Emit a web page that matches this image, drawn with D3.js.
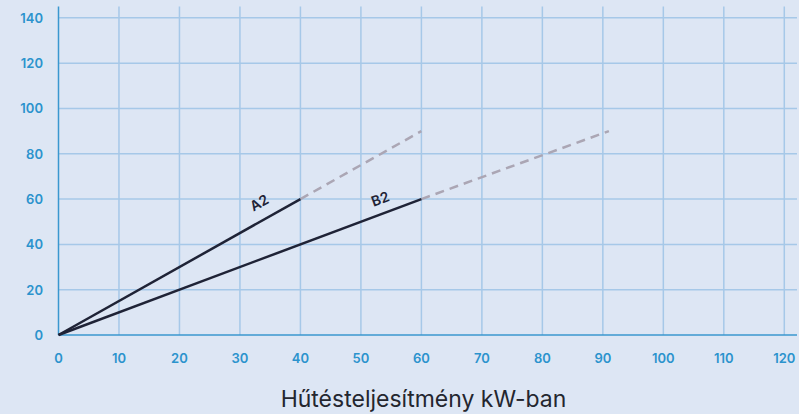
<!DOCTYPE html>
<html>
<head>
<meta charset="utf-8">
<script src="https://cdn.jsdelivr.net/npm/d3@7"></script>
<style>
  body { margin: 0; background: #dde6f4; }
  svg { display: block; }
</style>
</head>
<body>
<script>
// data
const xTicks = [0, 10, 20, 30, 40, 50, 60, 70, 80, 90, 100, 110, 120];
const yTicks = [0, 20, 40, 60, 80, 100, 120, 140];
const lineA2 = [[0, 0], [40, 60]];
const lineB2 = [[0, 0], [60, 60]];
const dashA2 = [[40, 60], [60, 90]];
const dashB2 = [[60, 60], [91, 90]];
const labels = [{ text: "A2", x: 33.2, y: 58.3 }, { text: "B2", x: 53.2, y: 60 }];
const xTitle = "Hűtésteljesítmény kW-ban";

const width = 799, height = 414;
const svg = d3.select("body").append("svg")
    .attr("width", width)
    .attr("height", height);

svg.append("rect").attr("width", width).attr("height", height).attr("fill", "#dde6f4");

const x = d3.scaleLinear().domain([0, 122.1]).range([58.5, 797]);
const y = d3.scaleLinear().domain([0, 145]).range([335, 6.5]);

// grid
svg.append("g").selectAll("line")
  .data(xTicks.slice(1))
  .join("line")
    .attr("x1", d => x(d)).attr("x2", d => x(d))
    .attr("y1", y(0)).attr("y2", y(145))
    .attr("stroke", "#a6c8e8").attr("stroke-width", 1.5);

svg.append("g").selectAll("line")
  .data(yTicks.slice(1))
  .join("line")
    .attr("x1", x(0)).attr("x2", x(122.1))
    .attr("y1", d => y(d)).attr("y2", d => y(d))
    .attr("stroke", "#a6c8e8").attr("stroke-width", 1.5);

// axes lines
svg.append("line")
    .attr("x1", x(0)).attr("x2", x(122.1))
    .attr("y1", y(0)).attr("y2", y(0))
    .attr("stroke", "#3a97cf").attr("stroke-width", 1.5);
svg.append("line")
    .attr("x1", x(0)).attr("x2", x(0))
    .attr("y1", y(0)).attr("y2", y(145))
    .attr("stroke", "#3a97cf").attr("stroke-width", 1.5);

// tick labels
const tickColor = "#2b93cd";
svg.append("g").selectAll("text")
  .data(xTicks)
  .join("text")
    .attr("x", d => x(d))
    .attr("y", 363)
    .attr("text-anchor", "middle")
    .attr("font-family", "Inter, sans-serif")
    .attr("font-size", 13)
    .attr("font-weight", 600)
    .attr("fill", tickColor)
    .text(d => d);

svg.append("g").selectAll("text")
  .data(yTicks)
  .join("text")
    .attr("x", 43)
    .attr("y", d => y(d) + 5)
    .attr("text-anchor", "end")
    .attr("font-family", "Inter, sans-serif")
    .attr("font-size", 13)
    .attr("font-weight", 600)
    .attr("fill", tickColor)
    .text(d => d);

// lines
const line = d3.line().x(d => x(d[0])).y(d => y(d[1]));

[dashA2, dashB2].forEach(d => {
  svg.append("path")
    .attr("d", line(d))
    .attr("fill", "none")
    .attr("stroke", "#aba6b4")
    .attr("stroke-width", 2.5)
    .attr("stroke-dasharray", "9,6");
});

[lineA2, lineB2].forEach(d => {
  svg.append("path")
    .attr("d", line(d))
    .attr("fill", "none")
    .attr("stroke", "#1f2336")
    .attr("stroke-width", 2.5);
});

// line labels, rotated with their line
labels.forEach((l, i) => {
  const seg = i === 0 ? lineA2 : lineB2;
  const ang = Math.atan2(y(seg[1][1]) - y(seg[0][1]), x(seg[1][0]) - x(seg[0][0])) * 180 / Math.PI;
  svg.append("text")
    .attr("transform", `translate(${x(l.x)},${y(l.y)}) rotate(${ang})`)
    .attr("text-anchor", "middle")
    .attr("dy", "0.35em")
    .attr("font-family", "Inter, sans-serif")
    .attr("font-size", 14)
    .attr("font-weight", 600)
    .attr("fill", "#1f2336")
    .text(l.text);
});

// axis title
svg.append("text")
    .attr("x", 423.5)
    .attr("y", 407)
    .attr("text-anchor", "middle")
    .attr("font-family", "Inter, sans-serif")
    .attr("font-size", 23)
    .attr("fill", "#24262f")
    .text(xTitle);
</script>
</body>
</html>
